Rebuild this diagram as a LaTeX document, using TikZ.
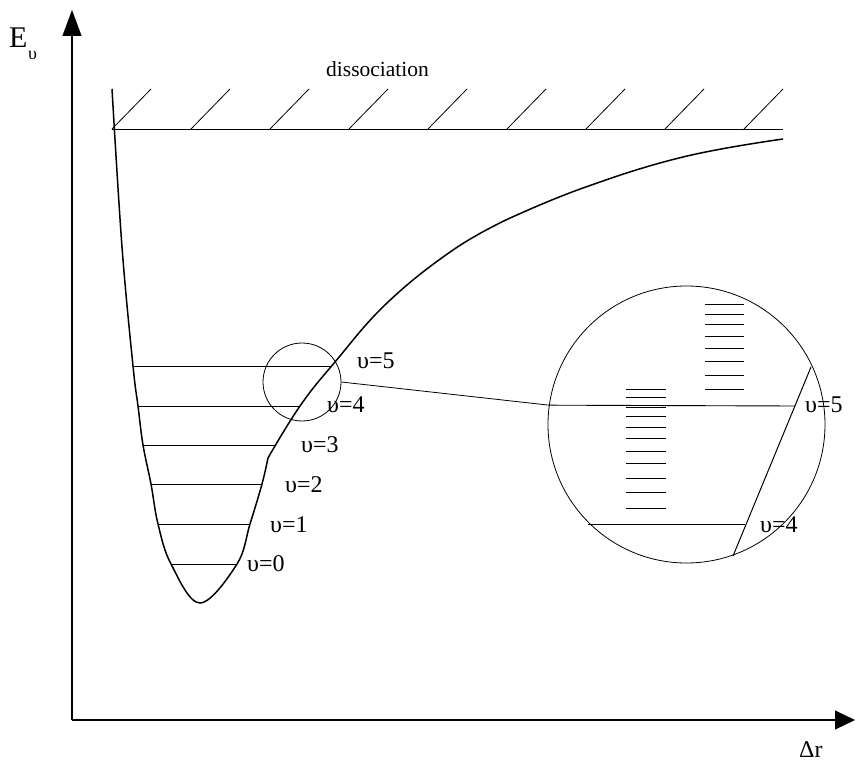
\documentclass[tikz,border=0pt]{standalone}
\usepackage{fontspec}
\setmainfont{Liberation Serif}
\usetikzlibrary{arrows.meta}
\tikzset{
  lbl/.style={anchor=base west,inner sep=0pt,font=\fontsize{24}{26}\selectfont},
  lvl/.style={line width=0.9pt},
  pes/.style={line width=1.5pt},
  axis/.style={line width=1.1pt,-{Triangle[length=26pt,width=19pt]}},
  zoomc/.style={circle,draw,line width=0.8pt,inner sep=0pt},
}
\begin{document}
\begin{tikzpicture}[x=1pt,y=-1pt]
\useasboundingbox (0,0) rectangle (855,762);
% axes
\coordinate (O) at (72,720);
\coordinate (Ytip) at (72,10);
\coordinate (Xtip) at (855,720);
\draw[axis] (O) -- (Ytip);
\draw[axis,-{Triangle[length=20pt,width=19pt]}] (O) -- (Xtip);
\node[anchor=base west,inner sep=0pt,font=\fontsize{30}{32}\selectfont] (E) at (9,48) {E};
\node[anchor=base west,inner sep=0pt,font=\fontsize{18}{20}\selectfont] (Esub) at (28,60) {υ};
\node[anchor=base west,inner sep=0pt,font=\fontsize{24}{26}\selectfont] (dr) at (799,757) {Δr};
% dissociation
\draw[line width=0.9pt] (112,129) -- (783,129);
\foreach \i in {0,...,8}{
  \draw[line width=0.8pt] ({112+79*\i},129) -- ({151+79*\i},89);
}
\node[anchor=base west,inner sep=0pt,font=\fontsize{21.5}{24}\selectfont] (dis) at (326,77) {dissociation};
% potential curve
\draw[pes] plot[smooth,tension=0.6] coordinates {(112,89) (122,247) (133,366) (138,406) (143,445) (151,484) (158,524) (171,564) (200,603) (237,564) (250,524) (262,484) (268,458)};
\draw[pes] plot[smooth,tension=0.7] coordinates {(268,458) (300,406) (335,362) (387,303) (453,250) (508,219)};
\draw[pes] plot[smooth,tension=0.7] coordinates {(508,219) (583,188) (683,157) (783,139)};
% levels
\draw[lvl] (133,366) -- (331,366);
\draw[lvl] (138,406) -- (300,406);
\draw[lvl] (143,445) -- (276,445);
\draw[lvl] (151,484) -- (262,484);
\draw[lvl] (158,524) -- (250,524);
\draw[lvl] (171,564) -- (237,564);
\node[lbl] (v5) at (357,368) {υ=5};
\node[lbl] (v4) at (327,413) {υ=4};
\node[lbl] (v3) at (301,452) {υ=3};
\node[lbl] (v2) at (285,492) {υ=2};
\node[lbl] (v1) at (270,532) {υ=1};
\node[lbl] (v0) at (247,571) {υ=0};
% zoom circles
\node[zoomc,minimum size=78pt] (zs) at (302,382) {};
\node[zoomc,minimum size=277pt] (zb) at (686.5,424.5) {};
\draw[line width=0.8pt] (zs.east) -- (zb.172.3);
% inside big circle
\draw[lvl] (zb.172.3) -- (795,406);
\draw[lvl] (588,524) -- (745,524);
\draw[line width=1pt] (811,367) -- (733,556);
\foreach \y in {304,314,324.7,336,348.3,361,375.7,389.7}{
  \draw[line width=0.9pt] (705,\y) -- (744,\y);
}
\foreach \y in {389.3,397.3,407,416,427.3,438.7,451.3,463.7,478,492.3,508.3}{
  \draw[line width=0.9pt] (626,\y) -- (666,\y);
}
\node[lbl] (b5) at (805,413) {υ=5};
\node[lbl] (b4) at (760,532) {υ=4};
\end{tikzpicture}
\end{document}
